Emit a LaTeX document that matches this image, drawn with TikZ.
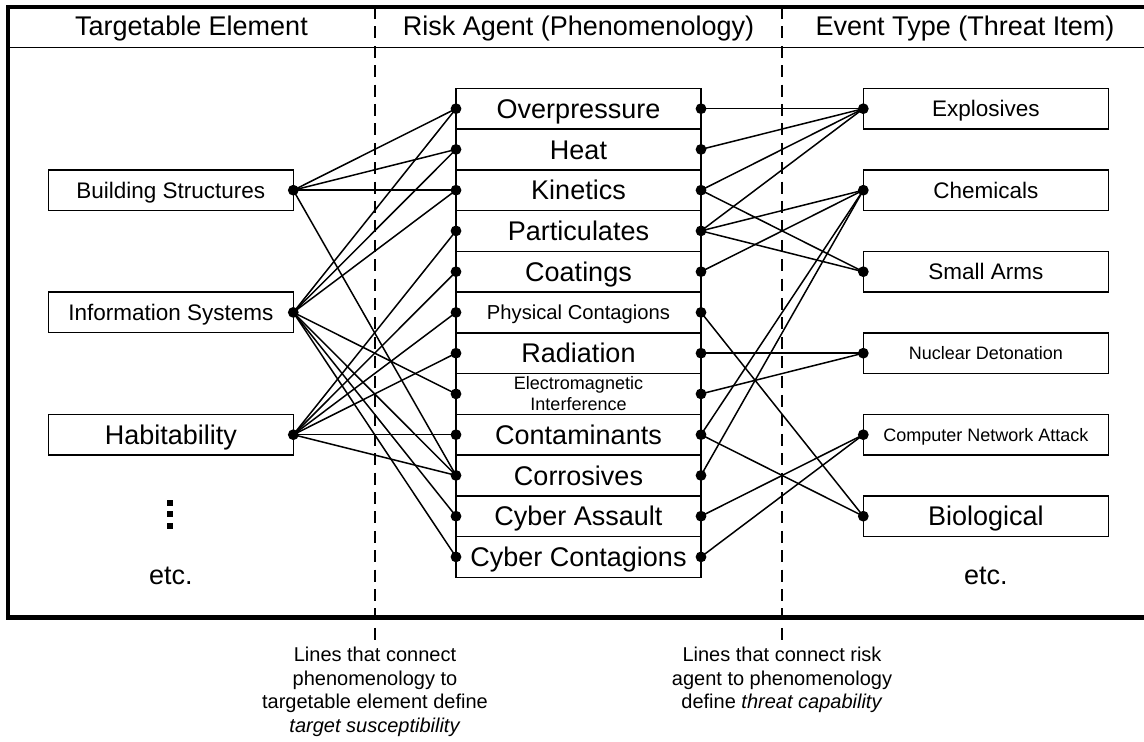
\documentclass[tikz,border=0pt]{standalone}
\usepackage{fontspec}
\setmainfont{Liberation Sans}
\begin{document}
\begin{tikzpicture}[x=0.5pt,y=-0.5pt,
  big/.style={font=\fontsize{13.5}{16}\selectfont, text height=9.67pt, text depth=0pt},
  mid/.style={font=\fontsize{11.25}{13}\selectfont, text height=8.05pt, text depth=0pt},
  small/.style={font=\fontsize{9}{10.5}\selectfont, text height=6.45pt, text depth=0pt},
  smallish/.style={font=\fontsize{10.1}{12}\selectfont, text height=7.23pt, text depth=0pt},
  tworow/.style={font=\fontsize{9}{10.5}\selectfont, align=center},
  box/.style={draw, line width=0.75pt, minimum width=122.5pt, minimum height=20.3pt,
    inner sep=0pt, outer sep=0pt},
  row/.style={box, minimum height=20.375pt},
  plain/.style={inner sep=0pt, outer sep=0pt},
  link/.style={line width=0.75pt},
  frame/.style={line width=2.1pt},
  rule/.style={line width=0.75pt},
  divider/.style={line width=0.65pt, dash pattern=on 6pt off 3.7pt},
  caption/.style={anchor=north, align=center, inner sep=0pt,
    font=\fontsize{10}{11.75}\selectfont},
  dot/.style={fill=black}
]
\useasboundingbox (0,0) rectangle (1144,742);

% outer frame (its right edge lies past the page) and the header rule
\draw[frame] (1150,6.8) -- (8,6.8) -- (8,617.5) -- (1150,617.5);
\draw[rule] (8,47.7) -- (1150,47.7);

% column dividers
\coordinate (d1top) at (375,7);
\coordinate (d1bot) at (375,640);
\coordinate (d2top) at (782,7);
\coordinate (d2bot) at (782,640);
\draw[divider] (d1top) -- (d1bot);
\draw[divider] (d2top) -- (d2bot);

% column headings
\node[plain,big] (h1) at (191.5,25.5) {Targetable Element};
\node[plain,big] (h2) at (578.5,25.5) {Risk Agent (Phenomenology)};
\node[plain,big] (h3) at (965,25.5) {Event Type (Threat Item)};

% targetable elements
\node[box,mid] (bs)  at (170.8,190.2) {Building Structures};
\node[box,mid] (is)  at (170.8,312.4) {Information Systems};
\node[box,big] (hab) at (170.8,434.7) {Habitability};
\fill (167,500) rectangle (173,506);
\fill (167,511) rectangle (173,517);
\fill (167,522.5) rectangle (173,528.5);
\node[plain,big] (etcL) at (170.8,575) {etc.};

% risk agents
\node[row,big]      (op)   at (578.5,108.7) {Overpressure};
\node[row,big]      (heat) at (578.5,149.4) {Heat};
\node[row,big]      (kin)  at (578.5,190.2) {Kinetics};
\node[row,big]      (part) at (578.5,230.9) {Particulates};
\node[row,big]      (coat) at (578.5,271.7) {Coatings};
\node[row,smallish] (phys) at (578.5,312.4) {Physical Contagions};
\node[row,big]      (rad)  at (578.5,353.2) {Radiation};
\node[row,tworow]   (emi)  at (578.5,393.9) {Electromagnetic\\Interference};
\node[row,big]      (cont) at (578.5,434.7) {Contaminants};
\node[row,big]      (corr) at (578.5,475.4) {Corrosives};
\node[row,big]      (cyba) at (578.5,516.2) {Cyber Assault};
\node[row,big]      (cybc) at (578.5,556.9) {Cyber Contagions};

% event types
\node[box,mid]   (ex)  at (985.8,108.7) {Explosives};
\node[box,mid]   (ch)  at (985.8,190.2) {Chemicals};
\node[box,mid]   (sa)  at (985.8,271.7) {Small Arms};
\node[box,small] (nd)  at (985.8,353.2) {Nuclear Detonation};
\node[box,small] (cna) at (985.8,434.7) {Computer Network Attack};
\node[box,big]   (bio) at (985.8,516.2) {Biological};
\node[plain,big] (etcR) at (985.8,575) {etc.};

% target susceptibility links
\foreach \a/\b in {bs/op, bs/heat, bs/kin, bs/corr,
                   is/op, is/heat, is/kin, is/emi, is/corr, is/cyba, is/cybc,
                   hab/part, hab/coat, hab/phys, hab/rad, hab/cont, hab/corr}
  \draw[link] (\a.east) -- (\b.west);

% threat capability links
\foreach \a/\b in {op/ex, heat/ex, kin/ex, kin/sa, part/ex, part/ch, part/sa,
                   coat/ch, phys/bio, rad/nd, emi/nd, cont/ch, cont/bio,
                   corr/ch, cyba/cna, cybc/cna}
  \draw[link] (\a.east) -- (\b.west);

% connection points
\foreach \n in {bs,is,hab}
  \fill[dot] (\n.east) circle (2.7pt);
\foreach \n in {op,heat,kin,part,coat,phys,rad,emi,cont,corr,cyba,cybc} {
  \fill[dot] (\n.west) circle (2.7pt);
  \fill[dot] (\n.east) circle (2.7pt);
}
\foreach \n in {ex,ch,sa,nd,cna,bio}
  \fill[dot] (\n.west) circle (2.7pt);

% notes under the dividers
\node[caption] (noteL) at (375,647) {Lines that connect\\phenomenology to\\targetable element define\\\textit{target susceptibility}};
\node[caption] (noteR) at (782,647) {Lines that connect risk\\agent to phenomenology\\define \textit{threat capability}};
\end{tikzpicture}
\end{document}
